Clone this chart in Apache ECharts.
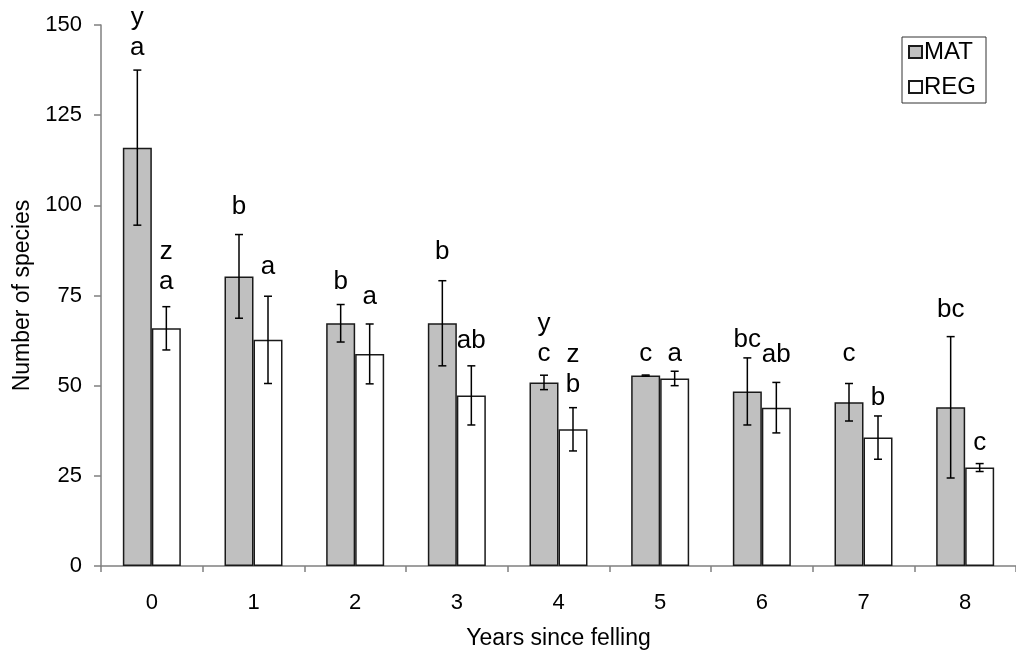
<!DOCTYPE html>
<html>
<head>
<meta charset="utf-8">
<script src="https://cdn.jsdelivr.net/npm/echarts@6/dist/echarts.min.js"></script>
<style>
html,body{margin:0;padding:0;background:#fff;}
#chart{width:1016px;height:655px;}
</style>
</head>
<body>
<div id="chart"></div>
<script>
// ---- data ----
var categories = ['0','1','2','3','4','5','6','7','8'];
var matValues = [116, 80.3, 67.3, 67.3, 50.9, 52.8, 48.4, 45.4, 44.0];
var matErr    = [21.5, 11.6, 5.2, 11.8, 2.0, 0.15, 9.3, 5.2, 19.6];
var regValues = [65.9, 62.7, 58.8, 47.3, 37.9, 52.0, 43.9, 35.6, 27.3];
var regErr    = [6.0, 12.1, 8.3, 8.2, 6.0, 2.0, 7.0, 6.0, 1.1];
// significance letters (lower line) and group letters (upper line)
var matLetters = ['a','b','b','b','c','c','bc','c','bc'];
var matGroup   = ['y','','','','y','','','',''];
var regLetters = ['a','a','a','ab','b','a','ab','b','c'];
var regGroup   = ['z','','','','z','','','',''];
// level (in species) of each letter's baseline
var matLabelY = [141.2, 97.1, 76.4, 84.7, 56.4, 56.4, 60.1, 56.4, 68.4];
var regLabelY = [76.2, 80.4, 72.1, 59.9, 47.7, 56.4, 56.0, 44.0, 31.7];
var yTicks = {min: 0, max: 150, interval: 25};

var FONT = "'Liberation Sans', Arial, Helvetica, sans-serif";
var BAR_W = 29;
var LETTER_SIZE = 26;

function errRender(values, errs, lower, upper, labelY, side) {
  return function (params, api) {
    var i = params.dataIndex;
    var v = values[i], e = errs[i];
    var off = side * BAR_W / 2;
    var top = api.coord([i, v + e]);
    var bot = api.coord([i, v - e]);
    var x = top[0] + off;
    var cap = 4;
    var st = {stroke: '#000', lineWidth: 1.5, fill: null};
    var children = [
      {type: 'line', shape: {x1: x, y1: top[1], x2: x, y2: bot[1]}, style: st},
      {type: 'line', shape: {x1: x - cap, y1: top[1], x2: x + cap, y2: top[1]}, style: st},
      {type: 'line', shape: {x1: x - cap, y1: bot[1], x2: x + cap, y2: bot[1]}, style: st}
    ];
    var ly = api.coord([i, labelY[i]])[1];
    children.push({type: 'text', style: {text: lower[i], x: x, y: ly - 9, align: 'center', verticalAlign: 'middle',
      font: LETTER_SIZE + 'px ' + FONT, fill: '#000'}});
    if (upper[i]) {
      children.push({type: 'text', style: {text: upper[i], x: x, y: ly - 9 - 30, align: 'center', verticalAlign: 'middle',
        font: LETTER_SIZE + 'px ' + FONT, fill: '#000'}});
    }
    return {type: 'group', children: children};
  };
}

var chart = echarts.init(document.getElementById('chart'), null, {renderer: 'canvas'});
var option = {
  animation: false,
  backgroundColor: '#fff',
  textStyle: {fontFamily: FONT},
  grid: {left: 101, top: 25, bottom: 88, right: -7, containLabel: false},
  legend: {
    data: ['MAT', 'REG'],
    orient: 'vertical',
    left: 902, top: 37,
    padding: [3, 10, 4, 6],
    itemGap: 11,
    itemWidth: 13, itemHeight: 12,
    borderColor: '#333', borderWidth: 1,
    textStyle: {fontSize: 24, fontFamily: FONT, color: '#000', lineHeight: 24, padding: [0, 0, 0, -3]},
    icon: 'rect'
  },
  xAxis: {
    type: 'category',
    data: categories,
    name: 'Years since felling',
    nameLocation: 'middle',
    nameGap: 61,
    nameTextStyle: {fontSize: 23, color: '#000', fontFamily: FONT},
    axisLine: {lineStyle: {color: '#808080', width: 1.5}},
    axisTick: {show: true, alignWithLabel: false, length: 6, lineStyle: {color: '#808080', width: 1.5}},
    axisLabel: {fontSize: 22, color: '#000', margin: 26, fontFamily: FONT},
    splitLine: {show: false}
  },
  yAxis: {
    type: 'value',
    min: yTicks.min, max: yTicks.max, interval: yTicks.interval,
    name: 'Number of species',
    nameLocation: 'middle',
    nameGap: 67,
    nameTextStyle: {fontSize: 23, color: '#000', fontFamily: FONT},
    axisLine: {show: true, lineStyle: {color: '#808080', width: 1.5}},
    axisTick: {show: true, inside: false, length: 7, lineStyle: {color: '#808080', width: 1.5}},
    axisLabel: {fontSize: 22, color: '#000', margin: 19, fontFamily: FONT},
    splitLine: {show: false}
  },
  series: [
    {
      name: 'MAT', type: 'bar', data: matValues, barWidth: BAR_W, barGap: '0%',
      itemStyle: {color: '#c0c0c0', borderColor: '#1a1a1a', borderWidth: 1.5}
    },
    {
      name: 'REG', type: 'bar', data: regValues, barWidth: BAR_W, barGap: '0%',
      itemStyle: {color: '#ffffff', borderColor: '#1a1a1a', borderWidth: 1.5}
    },
    {
      name: 'MAT err', type: 'custom', z: 10,
      data: matValues.map(function (v, i) { return [i, v]; }),
      encode: {x: 0, y: 1},
      renderItem: errRender(matValues, matErr, matLetters, matGroup, matLabelY, -1)
    },
    {
      name: 'REG err', type: 'custom', z: 10,
      data: regValues.map(function (v, i) { return [i, v]; }),
      encode: {x: 0, y: 1},
      renderItem: errRender(regValues, regErr, regLetters, regGroup, regLabelY, 1)
    }
  ]
};
chart.setOption(option);
</script>
</body>
</html>
